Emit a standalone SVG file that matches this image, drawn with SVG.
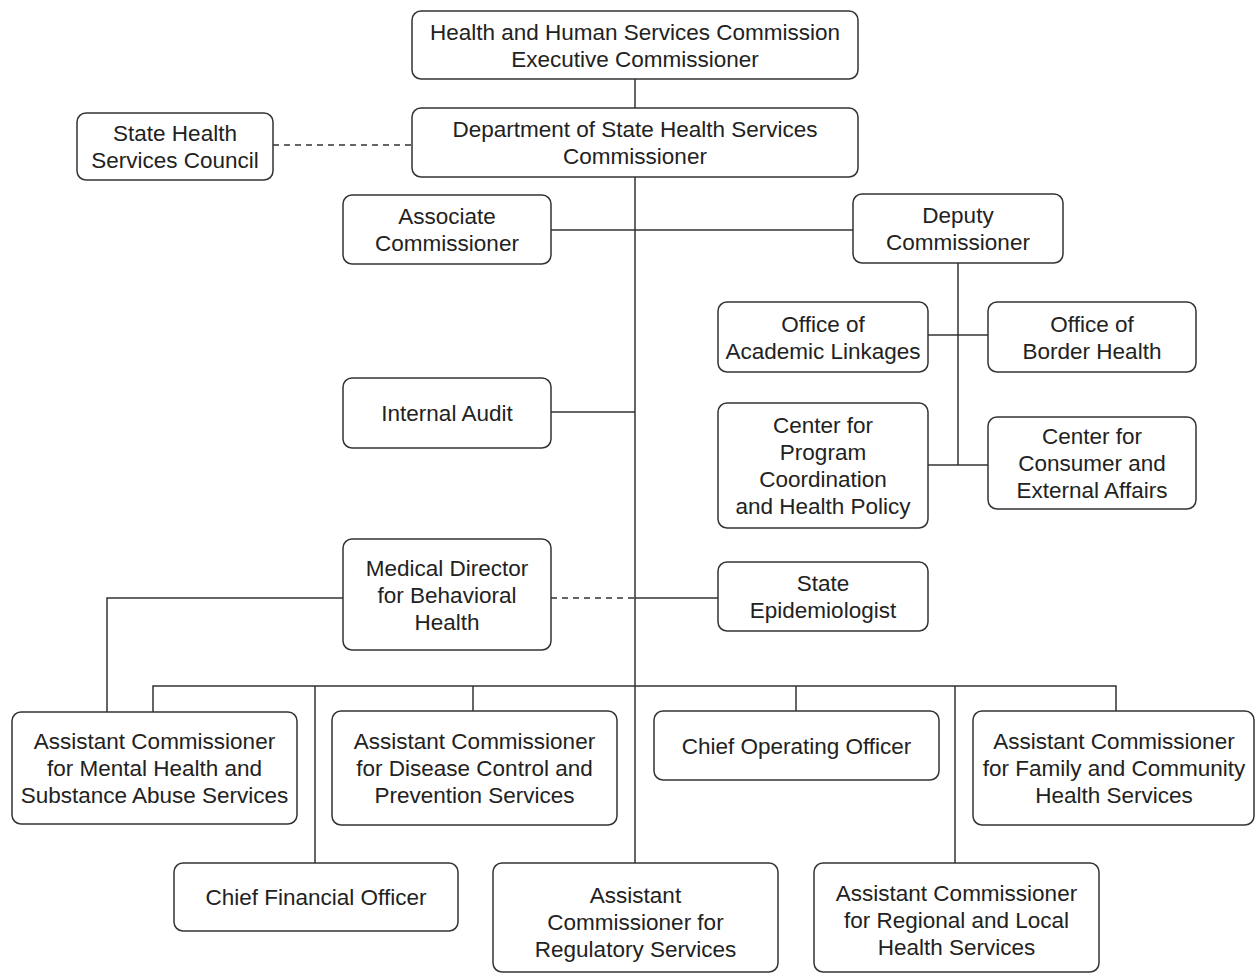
<svg xmlns="http://www.w3.org/2000/svg" width="1255" height="973" viewBox="0 0 1255 973">
<style>
.box{fill:#fff;stroke:#333;stroke-width:1.5}
.ln{fill:none;stroke:#333;stroke-width:1.5}
.dash{fill:none;stroke:#333;stroke-width:1.5;stroke-dasharray:6 5}
text{font-family:"Liberation Sans",Arial,sans-serif;font-size:22.5px;fill:#222;text-anchor:middle}
</style>
<rect width="1255" height="973" fill="#fff"/>
<g id="connectors">
<path class="ln" d="M635 79V108"/>
<path class="dash" d="M273 145H412"/>
<path class="ln" d="M635 177V863"/>
<path class="ln" d="M551 230H853"/>
<path class="ln" d="M958 263V465"/>
<path class="ln" d="M928 335H988"/>
<path class="ln" d="M928 465H988"/>
<path class="ln" d="M551 412H635"/>
<path class="dash" d="M551 598H635"/>
<path class="ln" d="M635 598H718"/>
<path class="ln" d="M343 598H107V712"/>
<path class="ln" d="M153 712V686H1116V711"/>
<path class="ln" d="M315 686V863"/>
<path class="ln" d="M473 686V711"/>
<path class="ln" d="M796 686V711"/>
<path class="ln" d="M955 686V863"/>
</g>
<g id="hhsc"><rect class="box" x="412" y="11" width="446" height="68" rx="9"/><text x="635" y="39.5">Health and Human Services Commission</text><text x="635" y="66.5">Executive Commissioner</text></g>
<g id="dshs"><rect class="box" x="412" y="108" width="446" height="69" rx="9"/><text x="635" y="137">Department of State Health Services</text><text x="635" y="164">Commissioner</text></g>
<g id="council"><rect class="box" x="77" y="113" width="196" height="67" rx="9"/><text x="175" y="141">State Health</text><text x="175" y="168">Services Council</text></g>
<g id="associate"><rect class="box" x="343" y="195" width="208" height="69" rx="9"/><text x="447" y="224">Associate</text><text x="447" y="251">Commissioner</text></g>
<g id="deputy"><rect class="box" x="853" y="194" width="210" height="69" rx="9"/><text x="958" y="223">Deputy</text><text x="958" y="250">Commissioner</text></g>
<g id="academic"><rect class="box" x="718" y="302" width="210" height="70" rx="9"/><text x="823" y="331.5">Office of</text><text x="823" y="358.5">Academic Linkages</text></g>
<g id="border"><rect class="box" x="988" y="302" width="208" height="70" rx="9"/><text x="1092" y="331.5">Office of</text><text x="1092" y="358.5">Border Health</text></g>
<g id="program"><rect class="box" x="718" y="403" width="210" height="125" rx="9"/><text x="823" y="433">Center for</text><text x="823" y="460">Program</text><text x="823" y="487">Coordination</text><text x="823" y="514">and Health Policy</text></g>
<g id="consumer"><rect class="box" x="988" y="417" width="208" height="92" rx="9"/><text x="1092" y="444">Center for</text><text x="1092" y="471">Consumer and</text><text x="1092" y="498">External Affairs</text></g>
<g id="audit"><rect class="box" x="343" y="378" width="208" height="70" rx="9"/><text x="447" y="421">Internal Audit</text></g>
<g id="medical"><rect class="box" x="343" y="539" width="208" height="111" rx="9"/><text x="447" y="575.5">Medical Director</text><text x="447" y="602.5">for Behavioral</text><text x="447" y="629.5">Health</text></g>
<g id="epi"><rect class="box" x="718" y="562" width="210" height="69" rx="9"/><text x="823" y="591">State</text><text x="823" y="618">Epidemiologist</text></g>
<g id="mh"><rect class="box" x="12" y="712" width="285" height="112" rx="9"/><text x="154.5" y="749">Assistant Commissioner</text><text x="154.5" y="776">for Mental Health and</text><text x="154.5" y="803">Substance Abuse Services</text></g>
<g id="disease"><rect class="box" x="332" y="711" width="285" height="114" rx="9"/><text x="474.5" y="749">Assistant Commissioner</text><text x="474.5" y="776">for Disease Control and</text><text x="474.5" y="803">Prevention Services</text></g>
<g id="coo"><rect class="box" x="654" y="711" width="285" height="69" rx="9"/><text x="796.5" y="753.5">Chief Operating Officer</text></g>
<g id="family"><rect class="box" x="973" y="711" width="281" height="114" rx="9"/><text x="1114" y="749">Assistant Commissioner</text><text x="1114" y="776">for Family and Community</text><text x="1114" y="803">Health Services</text></g>
<g id="cfo"><rect class="box" x="174" y="863" width="284" height="68" rx="9"/><text x="316" y="905">Chief Financial Officer</text></g>
<g id="regulatory"><rect class="box" x="493" y="863" width="285" height="109" rx="9"/><text x="635.5" y="903">Assistant</text><text x="635.5" y="930">Commissioner for</text><text x="635.5" y="957">Regulatory Services</text></g>
<g id="regional"><rect class="box" x="814" y="863" width="285" height="109" rx="9"/><text x="956.5" y="901">Assistant Commissioner</text><text x="956.5" y="928">for Regional and Local</text><text x="956.5" y="955">Health Services</text></g>
</svg>
